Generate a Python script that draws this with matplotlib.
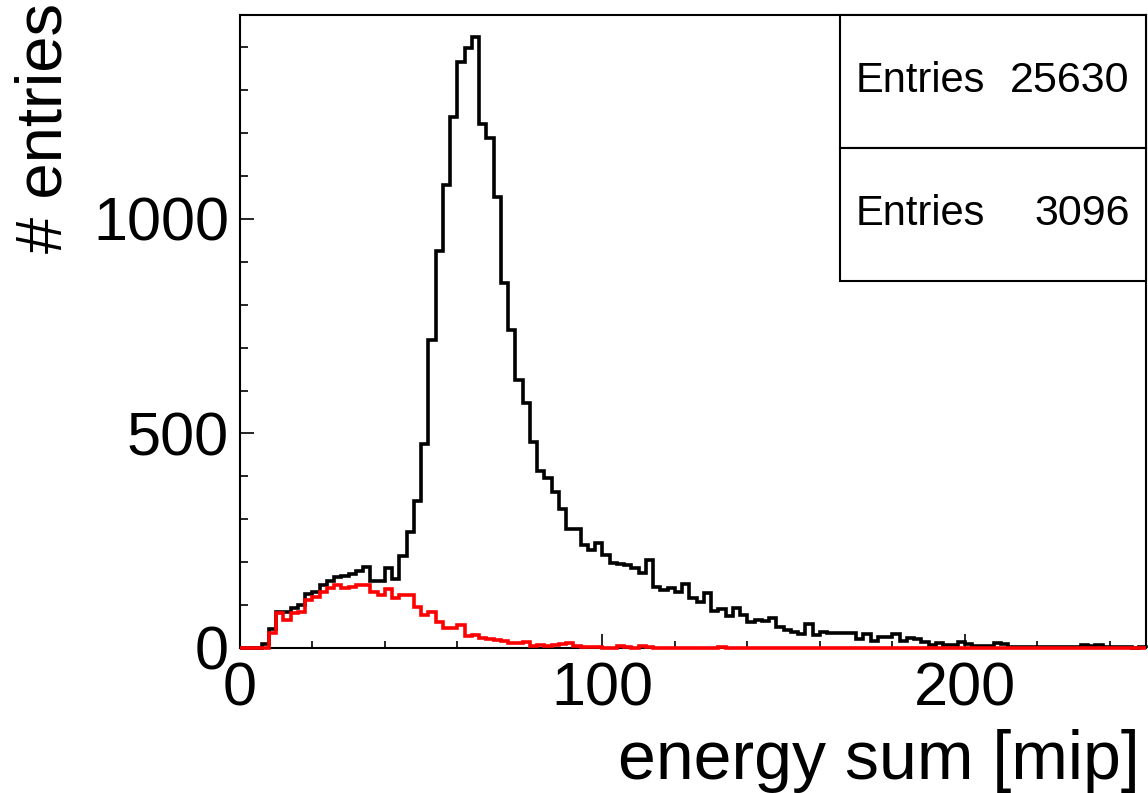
import numpy as np
import matplotlib.pyplot as plt
from matplotlib.patches import Rectangle

plt.rcParams['font.family'] = ['Liberation Sans', 'DejaVu Sans']

# histogram binning: 125 bins of 2 mip between 0 and 250
bin_edges = np.linspace(0, 250, 126)

# all events (black), counts per bin
counts_all = [
    0, 0, 0, 9, 44, 85, 85, 94, 100, 125,
    131, 147, 157, 166, 168, 172, 180, 188, 156, 156,
    186, 160, 215, 271, 342, 475, 717, 924, 1080, 1237,
    1366, 1398, 1424, 1222, 1188, 1052, 851, 740, 625, 570,
    480, 413, 397, 363, 323, 278, 278, 239, 228, 244,
    217, 199, 196, 193, 186, 174, 205, 143, 135, 139,
    131, 149, 116, 108, 129, 87, 90, 74, 94, 78,
    61, 65, 62, 70, 48, 42, 38, 32, 57, 30,
    38, 34, 34, 34, 34, 20, 33, 16, 25, 25,
    33, 17, 23, 20, 15, 7, 12, 7, 7, 15,
    10, 5, 5, 5, 12, 10, 3, 3, 3, 3,
    2, 3, 2, 3, 2, 3, 6, 5, 6, 2,
    2, 3, 2, 1, 2,
]

# selected events (red)
counts_sel = [
    0, 0, 0, 0, 35, 81, 65, 81, 85, 112,
    120, 131, 140, 147, 140, 143, 147, 147, 131, 124,
    137, 116, 124, 124, 96, 77, 85, 61, 46, 46,
    54, 28, 30, 23, 21, 19, 17, 12, 12, 13,
    5, 8, 5, 6, 10, 11, 5, 3, 2, 2,
    1, 1, 5, 3, 1, 4, 3, 1, 0, 1,
    0, 1, 0, 1, 0, 0, 3, 0, 1, 0,
    0, 1, 0, 0, 0, 1, 0, 0, 0, 0,
    0, 0, 1, 0, 0, 0, 0, 0, 0, 0,
    0, 0, 0, 0, 0, 0, 0, 0, 0, 0,
    0, 0, 0, 0, 0, 0, 0, 0, 0, 0,
    0, 0, 0, 0, 0, 0, 0, 0, 0, 0,
    0, 0, 0, 0, 0,
]

entries = [("Entries", "25630"), ("Entries", "3096")]

xticks = [0, 100, 200]
yticks = [0, 500, 1000]

W, H = 1148, 793
fig = plt.figure(figsize=(W / 100, H / 100), dpi=100)
ax = fig.add_axes([240 / W, 1 - 648 / H, (1146 - 240) / W, (648 - 15) / H])

ax.stairs(counts_all, bin_edges, color="black", lw=2.6, baseline=0,
          clip_on=False, zorder=3)
ax.stairs(counts_sel, bin_edges, color="#ff0000", lw=2.6, baseline=0,
          clip_on=False, zorder=4)

ax.set_xlim(0, 250)
ax.set_ylim(0, 1475)

ax.set_xticks(xticks)
ax.set_xticks(np.arange(0, 251, 20), minor=True)
ax.set_yticks(yticks)
ax.set_yticks(np.arange(0, 1401, 100), minor=True)
ax.tick_params(which="both", direction="in", labelsize=44, width=1.2,
               color="black")
ax.tick_params(axis="x", which="major", length=10, pad=10)
ax.tick_params(axis="x", which="minor", length=5)
ax.tick_params(axis="y", which="major", length=10, pad=8)
ax.tick_params(axis="y", which="minor", length=6)

for s in ax.spines.values():
    s.set_linewidth(1.5)

fig.text(1140 / W, 1 - 761 / H, "energy sum [mip]", fontsize=49,
         ha="right", va="center")
fig.text(45 / W, 1 - 3 / H, "# entries", fontsize=47, rotation=90,
         ha="center", va="top")

# stat boxes, stacked at the top right
box_tops = [1.0, 0.790]
box_h = 0.210
for (lbl, val), top in zip(entries, box_tops):
    ax.add_patch(Rectangle((0.662, top - box_h), 1 - 0.662, box_h,
                           transform=ax.transAxes, fill=True, fc="white",
                           ec="black", lw=1.5, zorder=5, clip_on=False))
    ax.text(0.679, top - box_h / 2, lbl, transform=ax.transAxes,
            fontsize=30, ha="left", va="center", zorder=6)
    ax.text(0.982, top - box_h / 2, val, transform=ax.transAxes,
            fontsize=31, ha="right", va="center", zorder=6)

fig.savefig("out.png", dpi=100)
